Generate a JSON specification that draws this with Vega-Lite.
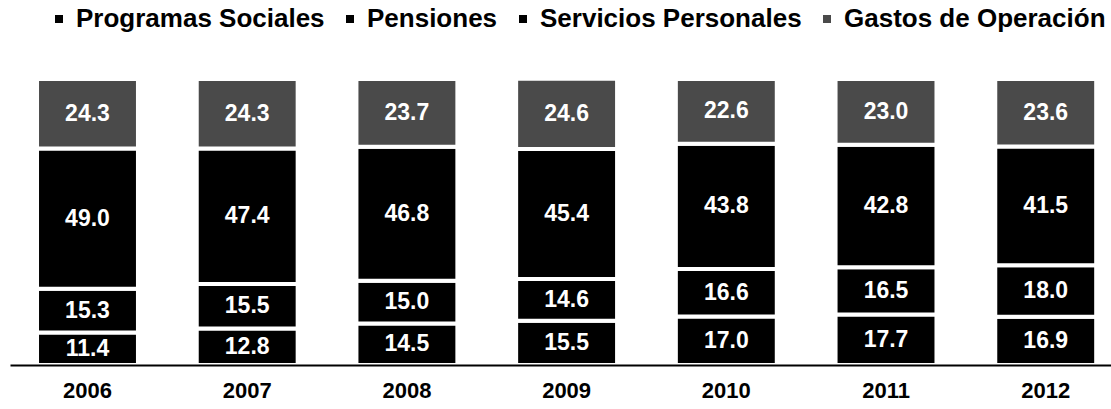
{
  "$schema": "https://vega.github.io/schema/vega-lite/v6.json",
  "width": 1101,
  "height": 286,
  "autosize": "none",
  "padding": {"left": 10, "top": 79, "right": 0, "bottom": 44},
  "background": "white",
  "config": {
    "view": {"stroke": null},
    "font": "Liberation Sans"
  },
  "data": {
    "values": [
      {"anio": "2006", "rubro": "Programas Sociales", "orden": 1, "valor": 11.4},
      {"anio": "2006", "rubro": "Pensiones", "orden": 2, "valor": 15.3},
      {"anio": "2006", "rubro": "Servicios Personales", "orden": 3, "valor": 49.0},
      {"anio": "2006", "rubro": "Gastos de Operación", "orden": 4, "valor": 24.3},
      {"anio": "2007", "rubro": "Programas Sociales", "orden": 1, "valor": 12.8},
      {"anio": "2007", "rubro": "Pensiones", "orden": 2, "valor": 15.5},
      {"anio": "2007", "rubro": "Servicios Personales", "orden": 3, "valor": 47.4},
      {"anio": "2007", "rubro": "Gastos de Operación", "orden": 4, "valor": 24.3},
      {"anio": "2008", "rubro": "Programas Sociales", "orden": 1, "valor": 14.5},
      {"anio": "2008", "rubro": "Pensiones", "orden": 2, "valor": 15.0},
      {"anio": "2008", "rubro": "Servicios Personales", "orden": 3, "valor": 46.8},
      {"anio": "2008", "rubro": "Gastos de Operación", "orden": 4, "valor": 23.7},
      {"anio": "2009", "rubro": "Programas Sociales", "orden": 1, "valor": 15.5},
      {"anio": "2009", "rubro": "Pensiones", "orden": 2, "valor": 14.6},
      {"anio": "2009", "rubro": "Servicios Personales", "orden": 3, "valor": 45.4},
      {"anio": "2009", "rubro": "Gastos de Operación", "orden": 4, "valor": 24.6},
      {"anio": "2010", "rubro": "Programas Sociales", "orden": 1, "valor": 17.0},
      {"anio": "2010", "rubro": "Pensiones", "orden": 2, "valor": 16.6},
      {"anio": "2010", "rubro": "Servicios Personales", "orden": 3, "valor": 43.8},
      {"anio": "2010", "rubro": "Gastos de Operación", "orden": 4, "valor": 22.6},
      {"anio": "2011", "rubro": "Programas Sociales", "orden": 1, "valor": 17.7},
      {"anio": "2011", "rubro": "Pensiones", "orden": 2, "valor": 16.5},
      {"anio": "2011", "rubro": "Servicios Personales", "orden": 3, "valor": 42.8},
      {"anio": "2011", "rubro": "Gastos de Operación", "orden": 4, "valor": 23.0},
      {"anio": "2012", "rubro": "Programas Sociales", "orden": 1, "valor": 16.9},
      {"anio": "2012", "rubro": "Pensiones", "orden": 2, "valor": 18.0},
      {"anio": "2012", "rubro": "Servicios Personales", "orden": 3, "valor": 41.5},
      {"anio": "2012", "rubro": "Gastos de Operación", "orden": 4, "valor": 23.6}
    ]
  },
  "transform": [
    {"stack": "valor", "groupby": ["anio"], "sort": [{"field": "orden", "order": "ascending"}], "as": ["v0", "v1"]},
    {"calculate": "(datum.v0 + datum.v1) / 2", "as": "vmid"}
  ],
  "encoding": {
    "x": {
      "field": "anio", "type": "nominal", "title": null,
      "scale": {"paddingInner": 0.368, "paddingOuter": 0.131, "align": 0.646},
      "axis": {
        "domainColor": "black", "domainWidth": 2, "ticks": false, "zindex": 1,
        "labelAngle": 0, "labelFont": "Liberation Sans", "labelFontSize": 22,
        "labelFontWeight": "bold", "labelColor": "black", "labelPadding": 15
      }
    }
  },
  "layer": [
    {
      "mark": {"type": "bar", "stroke": "white", "strokeWidth": 4},
      "encoding": {
        "y": {"field": "v0", "type": "quantitative", "scale": {"domain": [0, 100]}, "axis": null},
        "y2": {"field": "v1"},
        "color": {
          "field": "rubro", "type": "nominal",
          "sort": ["Programas Sociales", "Pensiones", "Servicios Personales", "Gastos de Operación"],
          "scale": {
            "domain": ["Programas Sociales", "Pensiones", "Servicios Personales", "Gastos de Operación"],
            "range": ["#000000", "#000000", "#000000", "#4a4a4a"]
          },
          "legend": {
            "title": null, "orient": "none", "direction": "horizontal",
            "legendX": 36, "legendY": -73, "padding": 0,
            "symbolType": "square", "symbolSize": 64, "symbolStrokeWidth": 0,
            "labelFont": "Liberation Sans", "labelFontSize": 26, "labelFontWeight": "bold",
            "labelColor": "black", "labelOffset": 4, "columnPadding": 12,
            "labelLimit": 400
          }
        }
      }
    },
    {
      "mark": {"type": "text", "color": "white", "fontSize": 23, "fontWeight": "bold", "font": "Liberation Sans", "baseline": "middle"},
      "encoding": {
        "y": {"field": "vmid", "type": "quantitative"},
        "text": {"field": "valor", "type": "quantitative", "format": ".1f"}
      }
    }
  ]
}
